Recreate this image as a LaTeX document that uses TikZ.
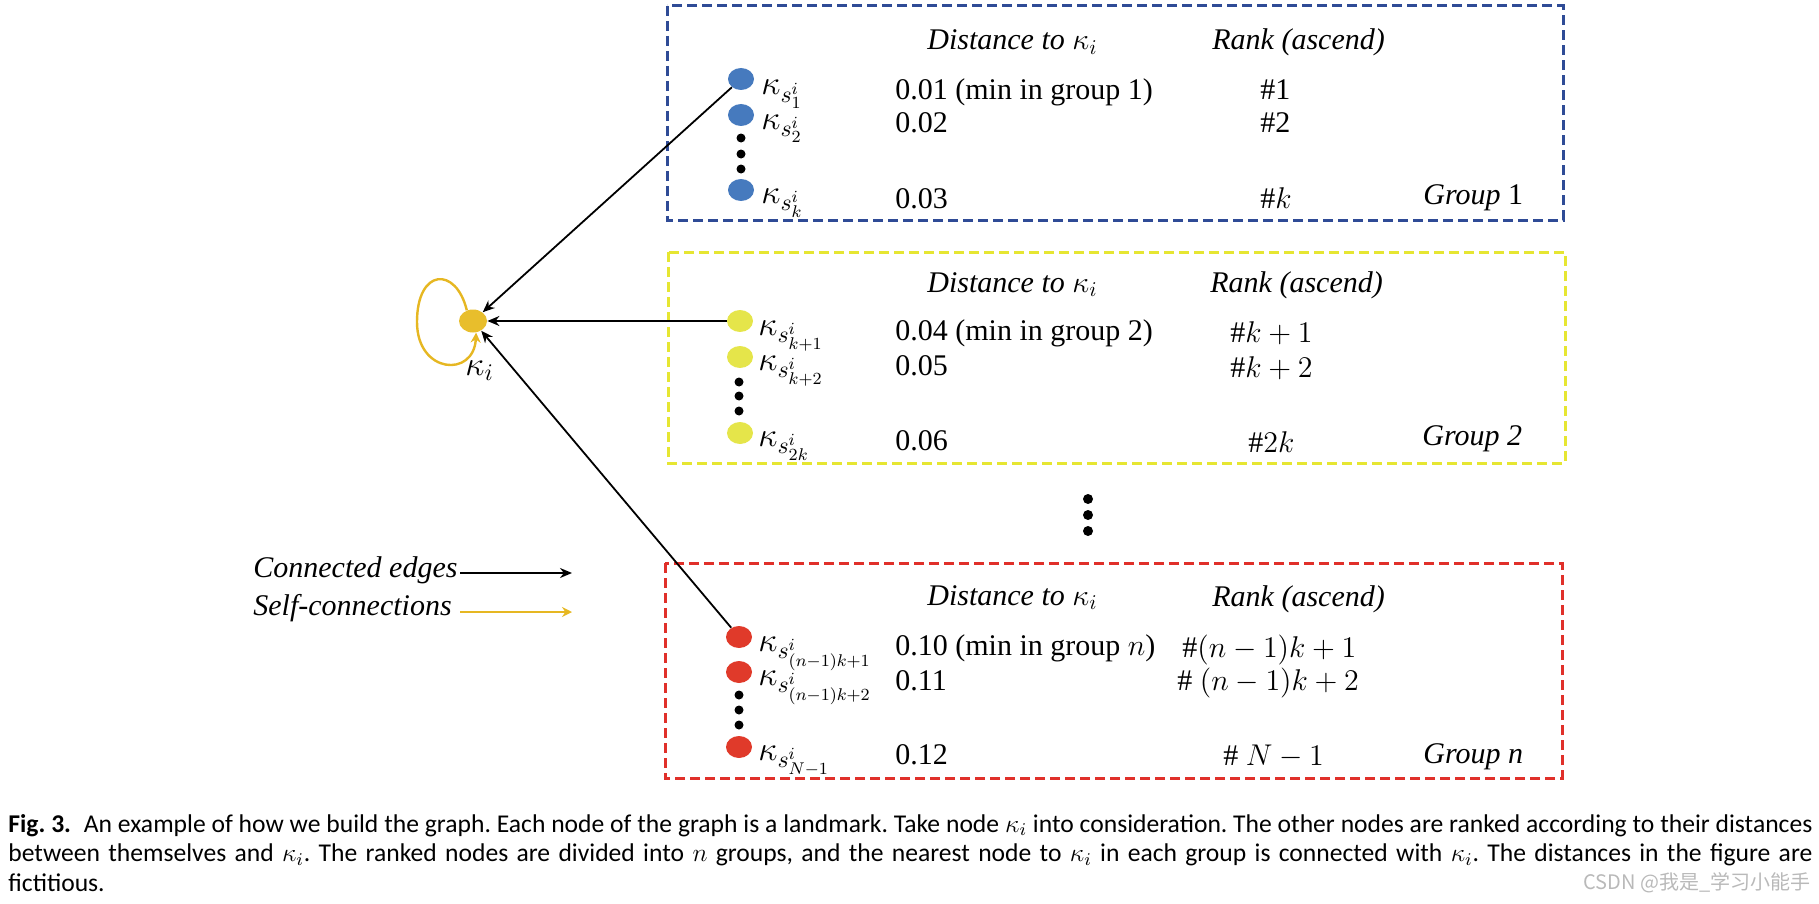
\documentclass[tikz,border=0pt]{standalone}
\usepackage{fix-cm}
\usepackage{fontspec}
\setmainfont{Liberation Serif}
\newfontfamily\capfont{Carlito}
\newfontfamily\cjkfont{Noto Sans CJK SC}
\usetikzlibrary{arrows.meta,shapes.geometric}
\definecolor{bbox}{HTML}{2F4B96}
\definecolor{bnode}{HTML}{467ABE}
\definecolor{ybox}{HTML}{E6E632}
\definecolor{ynode}{HTML}{E5E54A}
\definecolor{rbox}{HTML}{E0302A}
\definecolor{rnode}{HTML}{E03A2A}
\definecolor{goldn}{HTML}{E8BE2C}
\definecolor{goldl}{HTML}{E6B722}
\newcommand{\kl}[1]{$\kappa_{s^{i}_{#1}}$}
\begin{document}
\begin{tikzpicture}[x=0.5pt,y=-0.5pt,
  txt/.style={inner sep=0pt, anchor=base west, font=\fontsize{15}{18}\selectfont},
  lbl/.style={inner sep=0pt, anchor=base west, font=\fontsize{17}{18}\selectfont},
  itx/.style={inner sep=0pt, anchor=base west, font=\fontsize{15}{18}\selectfont\itshape},
  grpbox/.style={dash pattern=on 5pt off 2.5pt, line width=1.5pt},
  pnt/.style={ellipse, minimum width=13pt, minimum height=11pt, inner sep=0pt},
  blk/.style={circle, fill=black, minimum size=4.5pt, inner sep=0pt},
  edgearrow/.style={-{Stealth[length=6pt,width=5pt]}, line width=0.9pt},
  selfarrow/.style={goldl, -{Stealth[length=5pt,width=5pt]}, line width=1.2pt}]
\useasboundingbox (0,0) rectangle (1819,904);

% ---------- boxes ----------
\draw[grpbox, bbox] (667,6) rectangle (1563,220);
\draw[grpbox, ybox] (668,252) rectangle (1565,463);
\draw[grpbox, rbox] (665,563) rectangle (1562,778);

% ---------- central node ----------
\node[pnt, fill=goldn, minimum width=14pt, minimum height=11.5pt] (ki) at (473,321) {};
\node[lbl] (kil) at (465,375) {$\kappa_i$};
\draw[selfarrow] (ki.120) .. controls (456,266) and (417,268) .. (417,322)
  .. controls (417,374) and (474,378) .. (ki.-75);

% ---------- group 1 ----------
\node[itx] (h1d) at (927,50) {Distance to $\kappa_i$};
\node[itx] (h1r) at (1212,50) {Rank (ascend)};
\node[pnt, fill=bnode] (b1) at (741,79) {};
\node[pnt, fill=bnode] (b2) at (741,115) {};
\node[blk] (bd1) at (741,138) {};
\node[blk] (bd2) at (741,154) {};
\node[blk] (bd3) at (741,169) {};
\node[pnt, fill=bnode] (b3) at (741,190) {};
\node[lbl] (bl1) at (761,95) {\kl{1}};
\node[lbl] (bl2) at (761,129) {\kl{2}};
\node[lbl] (bl3) at (761,203) {\kl{k}};
\node[txt] (bv1) at (895,100) {0.01 (min in group 1)};
\node[txt] (bv2) at (895,133) {0.02};
\node[txt] (bv3) at (895,208) {0.03};
\node[txt] (br1) at (1260,100) {\#1};
\node[txt] (br2) at (1260,133) {\#2};
\node[txt] (br3) at (1260,208) {\#$k$};
\node[txt] (g1) at (1423,204) {\textit{Group} 1};

% ---------- group 2 ----------
\node[itx] (h2d) at (927,292) {Distance to $\kappa_i$};
\node[itx] (h2r) at (1210,292) {Rank (ascend)};
\node[pnt, fill=ynode] (y1) at (740,321) {};
\node[pnt, fill=ynode] (y2) at (740,357) {};
\node[blk] (yd1) at (739,382) {};
\node[blk] (yd2) at (739,396) {};
\node[blk] (yd3) at (739,411) {};
\node[pnt, fill=ynode] (y3) at (740,433) {};
\node[lbl] (yl1) at (758,335) {\kl{k+1}};
\node[lbl] (yl2) at (758,370) {\kl{k+2}};
\node[lbl] (yl3) at (758,446) {\kl{2k}};
\node[txt] (yv1) at (895,340) {0.04 (min in group 2)};
\node[txt] (yv2) at (895,375) {0.05};
\node[txt] (yv3) at (895,450) {0.06};
\node[txt] (yr1) at (1230,342) {\#$k+1$};
\node[txt] (yr2) at (1230,377) {\#$k+2$};
\node[txt] (yr3) at (1248,452) {\#$2k$};
\node[txt] (g2) at (1422,445) {\textit{Group 2}};

% ---------- vertical dots between groups ----------
\node[blk, minimum size=5pt] (md1) at (1088,499) {};
\node[blk, minimum size=5pt] (md2) at (1088,515) {};
\node[blk, minimum size=5pt] (md3) at (1088,531) {};

% ---------- group n ----------
\node[itx] (h3d) at (927,605) {Distance to $\kappa_i$};
\node[itx] (h3r) at (1212,606) {Rank (ascend)};
\node[pnt, fill=rnode] (r1) at (739,637) {};
\node[pnt, fill=rnode] (r2) at (739,672) {};
\node[blk] (rd1) at (739,695) {};
\node[blk] (rd2) at (739,710) {};
\node[blk] (rd3) at (739,725) {};
\node[pnt, fill=rnode] (r3) at (739,747) {};
\node[lbl] (rl1) at (758,651) {\kl{(n-1)k+1}};
\node[lbl] (rl2) at (758,685) {\kl{(n-1)k+2}};
\node[lbl] (rl3) at (758,760) {\kl{N-1}};
\node[txt] (rv1) at (895,655) {0.10 (min in group $n$)};
\node[txt] (rv2) at (895,690) {0.11};
\node[txt] (rv3) at (895,764) {0.12};
\node[txt] (rr1) at (1182,657) {\#$(n-1)k+1$};
\node[txt] (rr2) at (1177,690) {\# $(n-1)k+2$};
\node[txt] (rr3) at (1223,765) {\# $N-1$};
\node[txt] (g3) at (1423,763) {\textit{Group n}};

% ---------- connected edges ----------
\draw[edgearrow] (b1) -- (ki);
\draw[edgearrow] (y1) -- (ki);
\draw[edgearrow] (r1) -- (ki);

% ---------- legend ----------
\node[itx] (leg1) at (253,577) {Connected edges};
\node[itx] (leg2) at (253,615) {Self-connections};
\coordinate (la1) at (460,573);
\coordinate (lb1) at (572,573);
\coordinate (la2) at (460,612);
\coordinate (lb2) at (572,612);
\draw[edgearrow] (la1) -- (lb1);
\draw[selfarrow, line width=1pt] (la2) -- (lb2);

% ---------- caption ----------
\node[inner sep=0pt, anchor=base west, font=\capfont\fontsize{12.8}{14.75}\selectfont] (cap) at (8,832)
{\parbox[t]{902pt}{\frenchspacing\sloppy\textbf{Fig. 3.}\enspace An example of how we build the graph. Each node of the graph is a landmark. Take node $\kappa_i$ into consideration. The other nodes are ranked according to their distances\linebreak
between themselves and $\kappa_i$. The ranked nodes are divided into $n$ groups, and the nearest node to $\kappa_i$ in each group is connected with $\kappa_i$. The distances in the figure are\linebreak
fictitious.}};

% ---------- watermark ----------
\node[inner sep=0pt, anchor=base west, font=\cjkfont\fontsize{10}{12}\selectfont, text=gray!55] (wm) at (1583,889) {CSDN @我是\_学习小能手};
\end{tikzpicture}
\end{document}
